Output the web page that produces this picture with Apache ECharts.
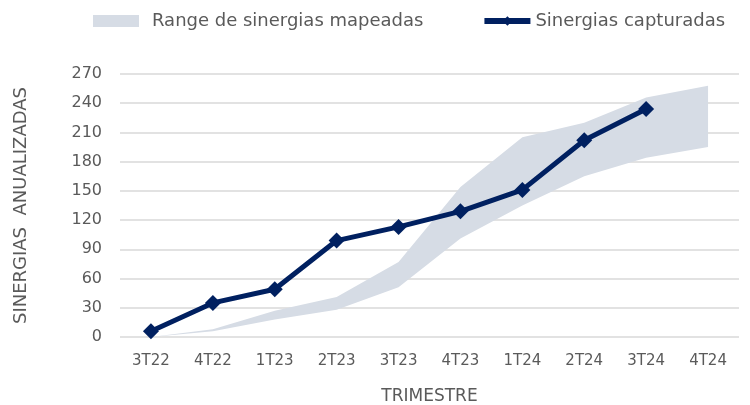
<!DOCTYPE html>
<html>
<head>
<meta charset="utf-8">
<script src="https://cdn.jsdelivr.net/npm/echarts@6/dist/echarts.min.js"></script>
<style>
  html, body { margin: 0; padding: 0; background: #fff; }
  #chart { width: 750px; height: 405px; }
</style>
</head>
<body>
<div id="chart"></div>
<script>
  // trimestres
  const categories = ['3T22', '4T22', '1T23', '2T23', '3T23', '4T23', '1T24', '2T24', '3T24', '4T24']
  // range mapeado (limite inferior / superior)
  const rangeLow = [0, 6, 18, 28, 51, 101, 135, 165, 184, 195]
  const rangeHigh = [0, 8, 27, 41, 77, 154, 205, 220, 246, 258]
  // sinergias capturadas
  const captured = [6, 35, 49, 99, 113, 129, 151, 202, 234, null]

  const rangeDiff = rangeHigh.map((v, i) => v - rangeLow[i])
  const font = '"DejaVu Sans", sans-serif'
  const grey = '#5a5a5a'
  const navy = '#002060'
  const band = '#d6dce5'

  const chart = echarts.init(document.getElementById('chart'))
  chart.setOption({
    animation: false,
    textStyle: { fontFamily: font },
    legend: {
      top: 7,
      left: 88,
      itemGap: 58,
      textStyle: { fontFamily: font, fontSize: 18, color: grey },
      data: [
        {
          name: 'Range de sinergias mapeadas',
          icon: 'rect',
          itemStyle: { color: band },
          textStyle: { padding: [0, 0, 0, 8] }
        },
        {
          name: 'Sinergias capturadas',
          lineStyle: { width: 6, color: navy }
        }
      ],
      itemWidth: 46,
      itemHeight: 12
    },
    grid: { left: 120, right: 11, top: 74, bottom: 68, outerBoundsMode: 'none' },
    xAxis: {
      type: 'category',
      data: categories,
      name: 'TRIMESTRE',
      nameLocation: 'middle',
      nameGap: 51,
      nameTextStyle: { fontSize: 17, color: grey },
      axisLine: { show: false },
      axisTick: { show: false },
      axisLabel: { fontSize: 15, color: grey, margin: 17 }
    },
    yAxis: {
      type: 'value',
      min: 0,
      max: 270,
      interval: 30,
      name: 'SINERGIAS  ANUALIZADAS',
      nameLocation: 'middle',
      nameGap: 90,
      nameTextStyle: { fontSize: 18, color: grey },
      axisLine: { show: false },
      axisTick: { show: false },
      axisLabel: { fontSize: 16, color: grey, margin: 18 },
      splitLine: { lineStyle: { color: '#d9d9d9', width: 1.5 } }
    },
    series: [
      {
        name: 'low',
        type: 'line',
        stack: 'range',
        data: rangeLow,
        symbol: 'none',
        lineStyle: { opacity: 0 },
        silent: true
      },
      {
        name: 'Range de sinergias mapeadas',
        type: 'line',
        stack: 'range',
        data: rangeDiff,
        symbol: 'none',
        lineStyle: { opacity: 0 },
        areaStyle: { color: band, opacity: 1 },
        itemStyle: { color: band }
      },
      {
        name: 'Sinergias capturadas',
        type: 'line',
        data: captured,
        symbol: 'diamond',
        symbolSize: 16,
        lineStyle: { color: navy, width: 5 },
        itemStyle: { color: navy },
        z: 5
      }
    ]
  })
</script>
</body>
</html>
